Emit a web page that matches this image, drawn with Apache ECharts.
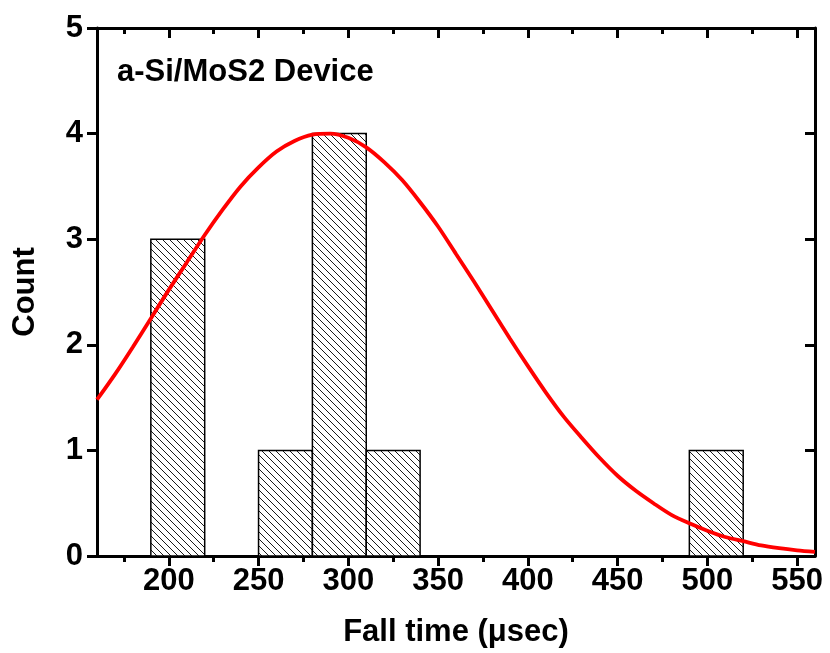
<!DOCTYPE html>
<html>
<head>
<meta charset="utf-8">
<script src="https://cdn.jsdelivr.net/npm/echarts@6/dist/echarts.min.js"></script>
<style>
html, body { margin: 0; padding: 0; background: #fff; }
#chart { width: 830px; height: 653px; }
</style>
</head>
<body>
<div id="chart"></div>
<script>
// histogram bins (left edges, width 30) and counts
var binStarts = [190, 220, 250, 280, 310, 340, 370, 400, 430, 460, 490];
var binWidth = 30;
var counts = [3, 0, 1, 4, 1, 0, 0, 0, 0, 0, 1];

// gaussian fit curve
var fitX = [160, 170, 180, 190, 200, 210, 220, 230, 240, 250, 260, 270, 280, 290, 300, 310, 320, 330, 340, 350,
            360, 370, 380, 390, 400, 410, 420, 430, 440, 450, 460, 470, 480, 490, 500, 510, 520, 530, 540, 550, 560];
var fitY = [1.48, 1.72, 1.98, 2.25, 2.52, 2.78, 3.04, 3.28, 3.50, 3.68, 3.83, 3.93, 3.99, 4.00, 3.96, 3.87, 3.73, 3.56, 3.35, 3.12,
            2.86, 2.60, 2.33, 2.06, 1.80, 1.55, 1.32, 1.12, 0.93, 0.76, 0.62, 0.50, 0.39, 0.31, 0.24, 0.18, 0.14, 0.10, 0.074, 0.054, 0.039];

// axis ticks
var xTicks = [200, 250, 300, 350, 400, 450, 500, 550];
var xMinorTicks = [175, 225, 275, 325, 375, 425, 475, 525];
var yTicks = [0, 1, 2, 3, 4, 5];

var font = '"Liberation Sans", Arial, sans-serif';

// hatch pattern "\\\\"
var tile = document.createElement('canvas');
tile.width = 7; tile.height = 7;
var ctx = tile.getContext('2d');
ctx.fillStyle = '#fff';
ctx.fillRect(0, 0, 7, 7);
ctx.strokeStyle = '#000';
ctx.lineWidth = 0.9;
ctx.beginPath();
ctx.moveTo(-1, -1); ctx.lineTo(8, 8);
ctx.moveTo(-1, 6); ctx.lineTo(1, 8);
ctx.moveTo(6, -1); ctx.lineTo(8, 1);
ctx.stroke();
var hatch = { image: tile, repeat: 'repeat' };

var barData = [];
binStarts.forEach(function (s, i) {
    if (counts[i] > 0) barData.push([s, s + binWidth, counts[i]]);
});
var lineData = fitX.map(function (x, i) { return [x, fitY[i]]; });

var black = '#000';
var labelStyle = { color: black, fontSize: 31, fontWeight: 'bold', fontFamily: font };

var myChart = echarts.init(document.getElementById('chart'));
var option = {
    animation: false,
    backgroundColor: '#fff',
    grid: { left: 97, right: 15, top: 28, bottom: 95 },
    graphic: [{
        type: 'text',
        x: 117,
        y: 72,
        style: {
            text: 'a-Si/MoS2 Device',
            fill: black,
            font: 'bold 31px ' + font,
            verticalAlign: 'middle'
        }
    }],
    xAxis: [
        {
            type: 'value', min: 160, max: 560, position: 'bottom',
            axisLine: { onZero: false, lineStyle: { color: black, width: 3 } },
            axisTick: { customValues: xTicks, length: 10, lineStyle: { color: black, width: 3 } },
            axisLabel: Object.assign({ customValues: xTicks, margin: 10 }, labelStyle),
            splitLine: { show: false },
            name: 'Fall time (\u03bcsec)',
            nameLocation: 'middle',
            nameGap: 61,
            nameTextStyle: labelStyle
        },
        {
            type: 'value', min: 160, max: 560, position: 'bottom',
            axisLine: { show: false, onZero: false },
            axisTick: { customValues: xMinorTicks, length: 6, lineStyle: { color: black, width: 3 } },
            axisLabel: { show: false },
            splitLine: { show: false }
        },
        {
            type: 'value', min: 160, max: 560, position: 'top',
            axisLine: { onZero: false, lineStyle: { color: black, width: 3 } },
            axisTick: { inside: true, customValues: xTicks, length: 10, lineStyle: { color: black, width: 3 } },
            axisLabel: { show: false },
            splitLine: { show: false }
        },
        {
            type: 'value', min: 160, max: 560, position: 'top',
            axisLine: { show: false, onZero: false },
            axisTick: { inside: true, customValues: xMinorTicks, length: 6, lineStyle: { color: black, width: 3 } },
            axisLabel: { show: false },
            splitLine: { show: false }
        }
    ],
    yAxis: [
        {
            type: 'value', min: 0, max: 5, position: 'left',
            axisLine: { show: true, lineStyle: { color: black, width: 3 } },
            axisTick: { show: true, customValues: yTicks, length: 10, lineStyle: { color: black, width: 3 } },
            axisLabel: Object.assign({ customValues: yTicks, margin: 14 }, labelStyle),
            splitLine: { show: false },
            name: 'Count',
            nameLocation: 'middle',
            nameGap: 56,
            nameTextStyle: labelStyle
        },
        {
            type: 'value', min: 0, max: 5, position: 'right',
            axisLine: { show: true, lineStyle: { color: black, width: 3 } },
            axisTick: { show: true, inside: true, customValues: yTicks, length: 10, lineStyle: { color: black, width: 3 } },
            axisLabel: { show: false },
            splitLine: { show: false }
        }
    ],
    series: [
        {
            type: 'custom',
            xAxisIndex: 0,
            yAxisIndex: 0,
            encode: { x: [0, 1], y: 2 },
            renderItem: function (params, api) {
                var p0 = api.coord([api.value(0), api.value(2)]);
                var p1 = api.coord([api.value(1), 0]);
                return {
                    type: 'rect',
                    shape: { x: p0[0], y: p0[1], width: p1[0] - p0[0], height: p1[1] - p0[1] },
                    style: { fill: hatch, stroke: black, lineWidth: 1.5 }
                };
            },
            data: barData,
            z: 2
        },
        {
            type: 'line',
            xAxisIndex: 0,
            yAxisIndex: 0,
            smooth: 0.3,
            showSymbol: false,
            symbol: 'none',
            lineStyle: { color: '#ff0000', width: 3.8 },
            data: lineData,
            z: 3
        }
    ]
};
myChart.setOption(option);
</script>
</body>
</html>
